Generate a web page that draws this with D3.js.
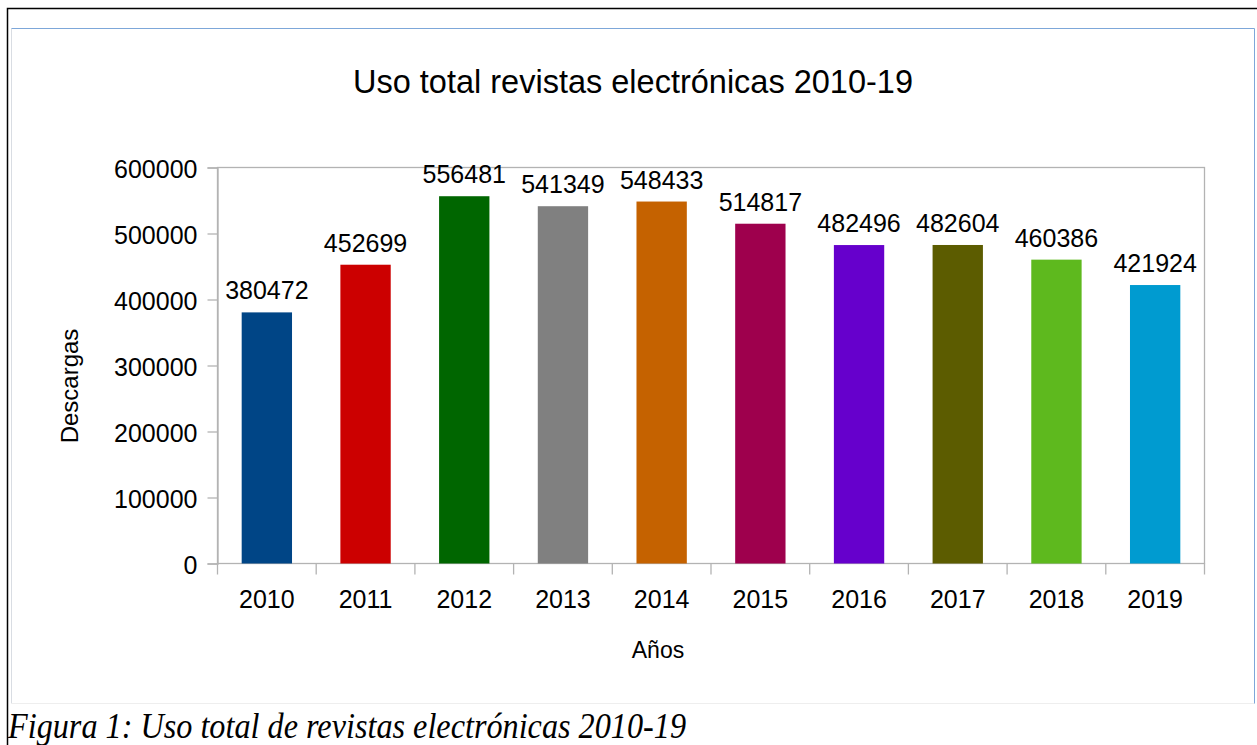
<!DOCTYPE html>
<html>
<head>
<meta charset="utf-8">
<script src="https://cdn.jsdelivr.net/npm/d3@7"></script>
<style>
  html, body { margin: 0; padding: 0; background: #fff; }
  svg { display: block; }
</style>
</head>
<body>
<svg id="chart" width="1257" height="745"></svg>
<script>
const years = ["2010","2011","2012","2013","2014","2015","2016","2017","2018","2019"];
const downloads = [380472, 452699, 556481, 541349, 548433, 514817, 482496, 482604, 460386, 421924];
const barColors = ["#004586","#cc0000","#006600","#808080","#c56200","#9e004d","#6600cc","#5c5c00","#5eb91e","#009bd0"];
const yTicks = [0, 100000, 200000, 300000, 400000, 500000, 600000];
const title = "Uso total revistas electrónicas 2010-19";
const yTitle = "Descargas";
const xTitle = "Años";
const caption = "Figura 1: Uso total de revistas electrónicas 2010-19";

(function () {
const svg = d3.select("#chart");
const font = "'Liberation Sans', Arial, sans-serif";
const labelSize = 25;

// outer page border
svg.append("path").attr("d", "M7.5,745 L7.5,8.5 L1257,8.5")
  .attr("fill", "none").attr("stroke", "#000").attr("stroke-width", 1.5);

// chart frame
svg.append("path").attr("d", "M11.5,703.5 L11.5,28.5")
  .attr("fill", "none").attr("stroke", "#d9dde3").attr("stroke-width", 1);
svg.append("path").attr("d", "M11.5,703.5 L1254.5,703.5")
  .attr("fill", "none").attr("stroke", "#eeeeee").attr("stroke-width", 1);
svg.append("path").attr("d", "M11.5,28.5 L1254.5,28.5 L1254.5,703.5")
  .attr("fill", "none").attr("stroke", "#7da7d9").attr("stroke-width", 1);

const pLeft = 217.5, pRight = 1204.5, pTop = 167.5, pBottom = 563.5;

const x = d3.scaleBand().domain(years).range([pLeft, pRight]).paddingInner(0.49).paddingOuter(0.245);
const y = d3.scaleLinear().domain([0, 600000]).range([pBottom, pTop]);
const xb = d3.scaleBand().domain(years).range([pLeft, pRight]);

// plot border
svg.append("rect").attr("x", pLeft).attr("y", pTop).attr("width", pRight - pLeft).attr("height", pBottom - pTop)
  .attr("fill", "none").attr("stroke", "#b3b3b3").attr("stroke-width", 1.3);

// bars
svg.append("g").selectAll("rect").data(years).join("rect")
  .attr("x", d => x(d))
  .attr("y", (d, i) => y(downloads[i]))
  .attr("width", x.bandwidth())
  .attr("height", (d, i) => y(0) - y(downloads[i]))
  .attr("fill", (d, i) => barColors[i]);

// y axis
const yAxis = d3.axisLeft(y).tickValues(yTicks).tickSize(10).tickPadding(10).tickFormat(d3.format("d"));
const gy = svg.append("g").attr("transform", `translate(${pLeft},0)`).call(yAxis);
gy.select(".domain").attr("stroke", "#b3b3b3").attr("stroke-width", 1.3);
gy.selectAll(".tick line").attr("stroke", "#b3b3b3").attr("stroke-width", 1.3);
gy.selectAll(".tick text").attr("font-family", font).attr("font-size", labelSize)
  .attr("fill", "#000").attr("dy", "0.41em");

// x axis: tick marks at category boundaries
const boundaries = years.map(d => xb(d)).concat([pRight]);
svg.append("g").selectAll("line").data(boundaries).join("line")
  .attr("x1", d => d).attr("x2", d => d)
  .attr("y1", pBottom).attr("y2", pBottom + 11)
  .attr("stroke", "#b3b3b3").attr("stroke-width", 1.3);

svg.append("g").selectAll("text").data(years).join("text")
  .attr("x", d => xb(d) + xb.bandwidth() / 2)
  .attr("y", 608)
  .attr("text-anchor", "middle")
  .attr("font-family", font).attr("font-size", labelSize).attr("fill", "#000")
  .text(d => d);

// value labels
svg.append("g").selectAll("text").data(years).join("text")
  .attr("x", d => x(d) + x.bandwidth() / 2)
  .attr("y", (d, i) => y(downloads[i]) - 13)
  .attr("text-anchor", "middle")
  .attr("font-family", font).attr("font-size", labelSize).attr("fill", "#000")
  .text((d, i) => downloads[i]);

// title
svg.append("text").attr("x", 633).attr("y", 93).attr("text-anchor", "middle")
  .attr("font-family", font).attr("font-size", 32.5).attr("fill", "#000").text(title);

// axis titles
svg.append("text").attr("transform", "translate(78,386) rotate(-90)").attr("text-anchor", "middle")
  .attr("font-family", font).attr("font-size", 24).attr("fill", "#000").text(yTitle);
svg.append("text").attr("x", 658).attr("y", 658).attr("text-anchor", "middle")
  .attr("font-family", font).attr("font-size", 23).attr("fill", "#000").text(xTitle);

// caption
svg.append("text").attr("x", 8).attr("y", 737.5)
  .attr("font-family", "'Liberation Serif', 'Times New Roman', serif").attr("font-style", "italic")
  .attr("font-size", 35.5).attr("textLength", 678).attr("lengthAdjust", "spacingAndGlyphs")
  .attr("fill", "#000").text(caption);
})();
</script>
</body>
</html>
